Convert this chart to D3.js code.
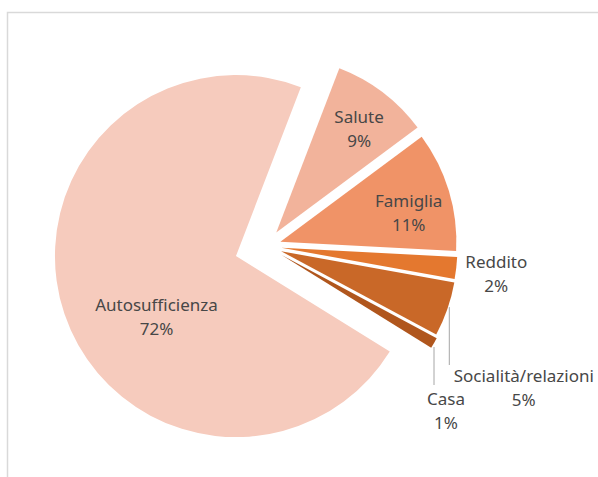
<!DOCTYPE html>
<html>
<head>
<meta charset="utf-8">
<script src="https://cdn.jsdelivr.net/npm/d3@7/dist/d3.min.js"></script>
<style>
  html, body { margin: 0; padding: 0; background: #ffffff; }
  svg { display: block; }
  text { font-family: "Noto Sans", "Open Sans", sans-serif; font-size: 17px; fill: #474747; }
</style>
</head>
<body>
<svg id="chart" width="598" height="477"></svg>
<script>
// Problem areas and their share of cases (%), clockwise from the top-right
const categories = ["Salute", "Famiglia", "Reddito", "Socialità/relazioni", "Casa", "Autosufficienza"];
const shares = [9, 11, 2, 5, 1, 72];
const sliceColors = ["#F2B39B", "#F09367", "#E4782F", "#C96828", "#B0561D", "#F6CBBD"];

// Geometry of the exploded pie
const W = 598, H = 477;
const cx = 266, cy = 246;              // common pie centre
const baseRadius = 176;
const radiusOf = { "Autosufficienza": 181 };
const explodeOf = {
  "Salute": 17, "Famiglia": 15, "Reddito": 15.5,
  "Socialità/relazioni": 16, "Casa": 18, "Autosufficienza": 31.7
};
const deg = Math.PI / 180;
const startDeg = 21;
const lineGap = 24;

// Labels drawn inside a slice: polar position from the slice apex
const insideLabel = {
  "Salute": { r: 137, shift: 0 },
  "Famiglia": { r: 133, shift: 1.6 },
  "Autosufficienza": { r: 96.5, shift: -16 }
};
// Labels moved outside the pie: offset from the pie centre, optional leader line
const outsideLabel = {
  "Reddito": { dx: 230.3, dy: 22.3 },
  "Socialità/relazioni": { dx: 257.8, dy: 135.7, leaderDx: -74.5, leaderEnd: -16.7 },
  "Casa": { dx: 180, dy: 159, leaderDx: -12, leaderEnd: -20 }
};

const rows = categories.map((c, i) => ({ name: c, value: shares[i], color: sliceColors[i] }));

const svg = d3.select("#chart");

// chart frame (left and top edges)
svg.append("path")
  .attr("d", `M7.5,${H} V12.5 H${W}`)
  .attr("fill", "none")
  .attr("stroke", "#d9d9d9")
  .attr("stroke-width", 1.5);

const pie = d3.pie()
  .value(d => d.value)
  .sort(null)
  .startAngle(startDeg * deg)
  .endAngle((startDeg + 360) * deg);

const arcs = pie(rows);
const unit = a => [Math.sin(a), -Math.cos(a)];

arcs.forEach(a => {
  const mid = (a.startAngle + a.endAngle) / 2;
  const [ux, uy] = unit(mid);
  const e = explodeOf[a.data.name] || 0;
  a.apex = [cx + e * ux, cy + e * uy];
  a.r = radiusOf[a.data.name] || baseRadius;
  a.mid = mid;
});

const slices = svg.append("g");
slices.selectAll("path")
  .data(arcs)
  .join("path")
  .attr("transform", d => `translate(${d.apex[0]},${d.apex[1]})`)
  .attr("d", d => d3.arc().innerRadius(0).outerRadius(d.r)(d))
  .attr("fill", d => d.data.color);

// leader lines
const leaders = svg.append("g");
arcs.forEach(a => {
  const o = outsideLabel[a.data.name];
  if (!o || o.leaderDx === undefined) return;
  const lx = cx + o.dx + o.leaderDx;
  const ddx = lx - a.apex[0];
  const yArc = a.apex[1] + Math.sqrt(Math.max(0, a.r * a.r - ddx * ddx));
  leaders.append("line")
    .attr("x1", lx).attr("x2", lx)
    .attr("y1", yArc + 4)
    .attr("y2", cy + o.dy + o.leaderEnd)
    .attr("stroke", "#a6a6a6")
    .attr("stroke-width", 1);
});

// data labels: category name and share
const labels = svg.append("g").attr("text-anchor", "middle");
arcs.forEach(a => {
  let x, y;
  const ins = insideLabel[a.data.name];
  if (ins) {
    const [ux, uy] = unit(a.mid + ins.shift * deg);
    x = a.apex[0] + ins.r * ux;
    y = a.apex[1] + ins.r * uy;
  } else {
    const o = outsideLabel[a.data.name];
    x = cx + o.dx;
    y = cy + o.dy;
  }
  const t = labels.append("text").attr("x", x).attr("y", y);
  t.append("tspan").attr("x", x).attr("y", y).text(a.data.name);
  t.append("tspan").attr("x", x).attr("y", y + lineGap).text(a.data.value + "%");
});
</script>
</body>
</html>
